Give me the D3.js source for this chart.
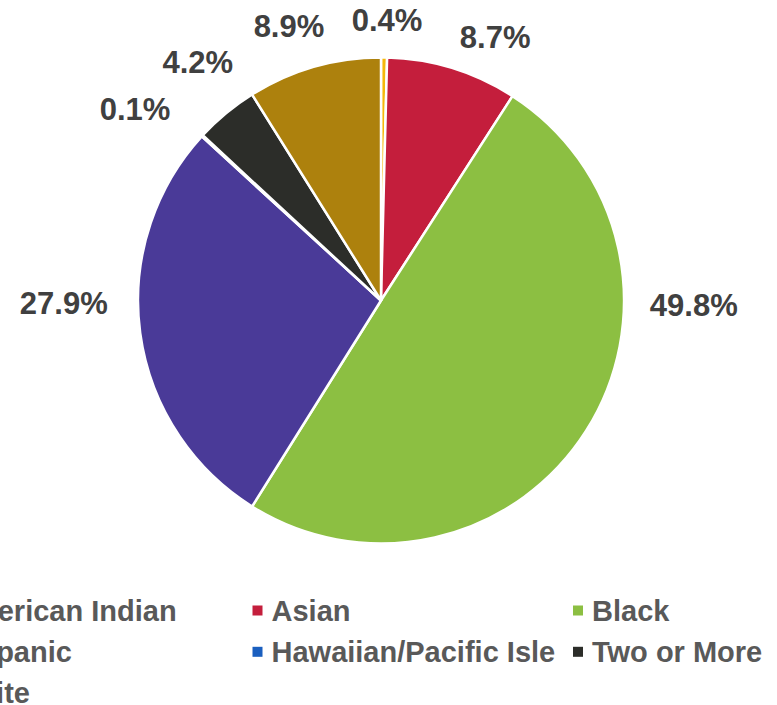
<!DOCTYPE html>
<html>
<head>
<meta charset="utf-8">
<script src="https://cdn.jsdelivr.net/npm/d3@7"></script>
<style>
  html, body { margin: 0; padding: 0; background: #ffffff; overflow: hidden; }
  svg { display: block; }
</style>
</head>
<body>
<svg id="chart" width="777" height="705"></svg>
<script>
// ---- data ----
const categories = ["American Indian", "Asian", "Black", "Hispanic", "Hawaiian/Pacific Isle", "Two or More", "White"];
const values = [0.4, 8.7, 49.8, 27.9, 0.1, 4.2, 8.9];
const valueLabels = ["0.4%", "8.7%", "49.8%", "27.9%", "0.1%", "4.2%", "8.9%"];

// ---- styles / layout ----
const colors = ["#F5B80C", "#C41E3C", "#8CBF42", "#4A3A98", "#1A5FBF", "#2C2D29", "#AD810D"];
// label placement: angular shift from slice middle (deg) and distance beyond the rim (px)
const labelAngleShift = [0.5, 6.3, -31.6, 7.3, -4.8, 2.1, -2.5];
const labelRadiusExtra = [38, 44.4, 69.8, 74.2, 68.5, 57.9, 46.8];

const W = 777, H = 705;
const cx = 381, cy = 300.5, R = 243;
const labelFont = 31, legendFont = 29;

const svg = d3.select("#chart");
const color = d3.scaleOrdinal().domain(categories).range(colors);

const data = categories.map((c, i) => ({ cat: c, value: values[i], label: valueLabels[i], i }));
const pie = d3.pie().value(d => d.value).sort(null).startAngle(0).endAngle(2 * Math.PI);
const arcs = pie(data);
const arc = d3.arc().innerRadius(0).outerRadius(R);

const g = svg.append("g").attr("transform", `translate(${cx},${cy})`);
g.selectAll("path.slice")
  .data(arcs)
  .join("path")
  .attr("class", "slice")
  .attr("d", arc)
  .attr("fill", d => color(d.data.cat))
  .attr("stroke", "#ffffff")
  .attr("stroke-width", 2.5)
  .attr("stroke-linejoin", "round");

// labels
g.selectAll("text.lbl")
  .data(arcs)
  .join("text")
  .attr("class", "lbl")
  .each(function (d) {
    const i = d.data.i;
    const mid = (d.startAngle + d.endAngle) / 2 + labelAngleShift[i] * Math.PI / 180;
    const r = R + labelRadiusExtra[i];
    const x = r * Math.sin(mid);
    const y = -r * Math.cos(mid);
    d3.select(this)
      .attr("x", x)
      .attr("y", y + 0.358 * labelFont);
  })
  .attr("text-anchor", "middle")
  .attr("font-family", "'Liberation Sans', Arial, sans-serif")
  .attr("font-weight", "bold")
  .attr("font-size", labelFont)
  .attr("fill", "#404040")
  .text(d => d.data.label);

// legend
const legendCols = 3;
const colX = d3.scaleLinear().domain([0, 1]).range([-49, 271.5]);
const rowY = d3.scaleLinear().domain([0, 1]).range([610.5, 651.8]);
const legend = svg.append("g").attr("class", "legend");
const items = legend.selectAll("g.item")
  .data(data)
  .join("g")
  .attr("class", "item")
  .attr("transform", d => `translate(${colX(d.i % legendCols)},${rowY(Math.floor(d.i / legendCols))})`);
items.append("rect")
  .attr("x", -19)
  .attr("y", -5)
  .attr("width", 10)
  .attr("height", 10)
  .attr("fill", d => color(d.cat));
items.append("text")
  .attr("x", 0)
  .attr("y", 0.358 * legendFont)
  .attr("font-family", "'Liberation Sans', Arial, sans-serif")
  .attr("font-weight", "bold")
  .attr("font-size", legendFont)
  .attr("fill", "#595959")
  .text(d => d.cat);
</script>
</body>
</html>
